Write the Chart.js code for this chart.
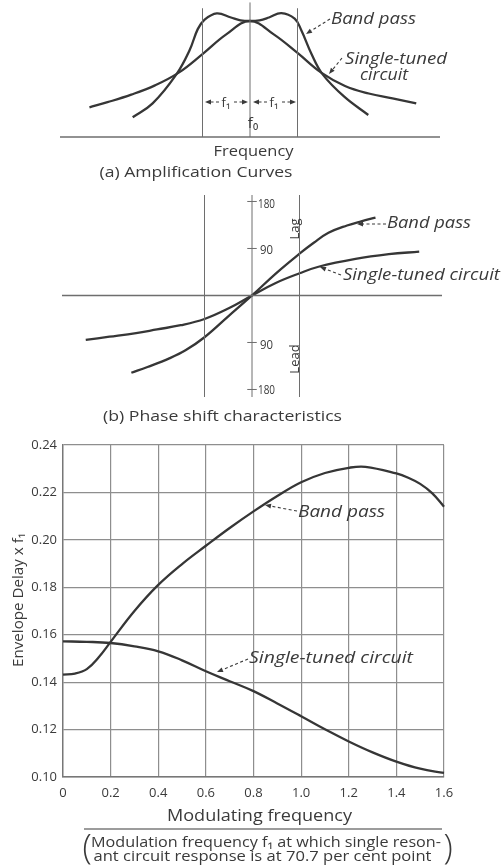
<!DOCTYPE html>
<html><head><meta charset="utf-8">
<script src="https://cdn.jsdelivr.net/npm/chart.js@4.4.1/dist/chart.umd.min.js"></script>
<style>
html,body{margin:0;padding:0;background:#fff;}
#wrap{position:relative;width:501px;height:867px;overflow:hidden;background:#fff;}
canvas{position:absolute;left:0;top:0;}
</style></head><body>
<div id="wrap">
<canvas id="c1" width="501" height="867"></canvas>
<canvas id="c2" width="501" height="867"></canvas>
<canvas id="c3" width="501" height="867"></canvas>
</div>
<script>
// ---------- data ----------
// (a) amplification curves: x in units of f1 from f0, relative amplitude
const ampBandX   = [-2.47,-2.05,-1.55,-1.27,-1.1,-0.96,-0.7,-0.4,-0.2,0,0.2,0.4,0.66,0.94,1.08,1.29,1.53,1.99,2.49];
const ampBandY   = [0.17,0.29,0.54,0.75,0.93,1.01,1.066,1.03,1.006,1.0,1.006,1.03,1.068,1.02,0.92,0.72,0.54,0.345,0.19];
const ampSingleX = [-3.38,-3.0,-2.5,-2.0,-1.5,-1.0,-0.5,0,0.5,1.0,1.5,2.0,2.5,3.0,3.5];
const ampSingleY = [0.256,0.300,0.365,0.445,0.555,0.715,0.885,1.0,0.885,0.725,0.555,0.44,0.375,0.333,0.29];
// (b) phase shift, degrees
const phBandX    = [-2.54,-2.2,-1.73,-1.4,-1.0,-0.5,0,0.5,1.0,1.3,1.61,2.0,2.3,2.6];
const phBandY    = [-148,-137,-120,-105,-80,-40,0,42,80,101,120,134,142,149];
const phSingleX  = [-3.5,-3.0,-2.44,-2.0,-1.5,-1.0,-0.5,0,0.5,1.0,1.4,2.18,2.88,3.52];
const phSingleY  = [-85,-79,-72,-65,-57,-45,-25,0,24,42.5,55,70,79,84];
const phaseTicks = [180,90,-90,-180];
// (c) envelope delay
const modFreq    = [0,0.05,0.1,0.15,0.2,0.3,0.4,0.5,0.6,0.7,0.8,0.9,1.0,1.1,1.2,1.27,1.4,1.45,1.5,1.55,1.6];
const delayBand  = [0.1432,0.1436,0.1455,0.1505,0.1570,0.1700,0.1810,0.1898,0.1975,0.2050,0.2120,0.2185,0.2243,0.2282,0.2304,0.2308,0.2280,0.2262,0.2236,0.2197,0.2140];
const modFreq2   = [0,0.1,0.2,0.3,0.4,0.5,0.6,0.7,0.8,0.9,1.0,1.1,1.2,1.3,1.4,1.5,1.6];
const delaySingle= [0.1572,0.1570,0.1565,0.1551,0.1530,0.1492,0.1446,0.1404,0.1362,0.1310,0.1256,0.1201,0.1150,0.1104,0.1065,0.1035,0.1017];
const xTicks = [0,0.2,0.4,0.6,0.8,1.0,1.2,1.4,1.6];
const yTicks = [0.10,0.12,0.14,0.16,0.18,0.20,0.22,0.24];

// ---------- styles ----------
const INK='#363636', LINE='#6e6e6e', GRID='#8e8e8e', TEXT='#3a3a3a';
const FONT='"Open Sans", sans-serif';
Chart.defaults.font.family = FONT;
Chart.defaults.color = TEXT;

const pts = (xs, ys) => xs.map((x,i)=>({x, y: ys[i]}));
const curve = (xs, ys) => ({data: pts(xs,ys), borderColor: INK, borderWidth: 2.3, pointRadius: 0, tension: 0.4, clip: false, fill: false});
const rule  = (data, w, c) => ({data, borderColor: c||LINE, borderWidth: w||1, pointRadius: 0, tension: 0, clip: false, fill: false});

const annot = {
  id: 'annot',
  afterDraw(chart, args, o) {
    const ctx = chart.ctx;
    ctx.save();
    (o.segs||[]).forEach(s => {
      ctx.beginPath(); ctx.strokeStyle = s.c||LINE; ctx.lineWidth = s.w||1; ctx.setLineDash(s.dash||[]);
      ctx.moveTo(s.x1,s.y1); ctx.lineTo(s.x2,s.y2); ctx.stroke();
    });
    (o.arrows||[]).forEach(a => {
      const ang = Math.atan2(a.y1-a.y2, a.x1-a.x2);
      const L=6, W=2.4;
      ctx.beginPath(); ctx.setLineDash([3,2.5]); ctx.strokeStyle=TEXT; ctx.lineWidth=1.1;
      ctx.moveTo(a.x2,a.y2); ctx.lineTo(a.x1 - L*Math.cos(ang), a.y1 - L*Math.sin(ang)); ctx.stroke();
      ctx.setLineDash([]);
      ctx.beginPath(); ctx.fillStyle=TEXT;
      ctx.moveTo(a.x1,a.y1);
      ctx.lineTo(a.x1 - L*Math.cos(ang) + W*Math.sin(ang), a.y1 - L*Math.sin(ang) - W*Math.cos(ang));
      ctx.lineTo(a.x1 - L*Math.cos(ang) - W*Math.sin(ang), a.y1 - L*Math.sin(ang) + W*Math.cos(ang));
      ctx.closePath(); ctx.fill();
    });
    ctx.setLineDash([]);
    (o.texts||[]).forEach(t => {
      ctx.font = (t.it?'italic ':'') + (t.wt||400) + ' ' + t.s + 'px ' + FONT;
      ctx.fillStyle = t.c||TEXT; ctx.textAlign='center'; ctx.textBaseline='alphabetic';
      const m = ctx.measureText(t.t).width;
      ctx.save(); ctx.translate(t.x,t.y); if (t.r) ctx.rotate(t.r); if (t.w) ctx.scale(t.w/m,1);
      ctx.fillText(t.t,0,0); ctx.restore();
    });
    ctx.restore();
  }
};

const base = {responsive:false, animation:false, devicePixelRatio:1, events:[],
  plugins:{legend:{display:false}, tooltip:{enabled:false}}};

// ---------- (a) amplification ----------
new Chart(document.getElementById('c1'), {
  type:'line',
  data:{datasets:[
    rule([{x:-4,y:0},{x:4,y:0}], 1.3),
    rule([{x:0,y:0},{x:0,y:1.16}], 1),
    rule([{x:-1,y:0},{x:-1,y:1.11}], 1),
    rule([{x:1,y:0},{x:1,y:1.11}], 1),
    curve(ampSingleX, ampSingleY),
    curve(ampBandX, ampBandY)
  ]},
  options:{...base,
    layout:{padding:{left:60,right:61,top:2,bottom:730}},
    scales:{x:{type:'linear',min:-4,max:4,display:false}, y:{type:'linear',min:0,max:1.1638,display:false}},
    plugins:{...base.plugins, annot:{
      arrows:[{x1:306,y1:34,x2:330,y2:19},{x1:329,y1:74,x2:342,y2:58},
              {x1:205,y1:102,x2:219,y2:102},{x1:248,y1:102,x2:234,y2:102},
              {x1:253,y1:102,x2:267,y2:102},{x1:296,y1:102,x2:282,y2:102}],
      texts:[
        {t:'Band pass',x:373.5,y:24,w:85,s:16,it:true},
        {t:'Single-tuned',x:396,y:64,w:102,s:16,it:true},
        {t:'circuit',x:384,y:80,w:48,s:16,it:true},
        {t:'f\u2081',x:226,y:107,s:13},
        {t:'f\u2081',x:274,y:107,s:13},
        {t:'f\u2080',x:253,y:128,s:15},
        {t:'Frequency',x:253.5,y:156,w:80,s:15},
        {t:'(a) Amplification Curves',x:196,y:177,w:193,s:14}
      ]}}
  },
  plugins:[annot]
});

// ---------- (b) phase ----------
new Chart(document.getElementById('c2'), {
  type:'line',
  data:{datasets:[
    rule([{x:-4,y:0},{x:4,y:0}], 1.3),
    rule([{x:0,y:-194.4},{x:0,y:192.4}], 1),
    rule([{x:-1,y:-194.4},{x:-1,y:192.4}], 1),
    rule([{x:1,y:-194.4},{x:1,y:192.4}], 1),
    ...phaseTicks.map(v => rule([{x:-0.1,y:v},{x:0.1,y:v}], 1)),
    curve(phSingleX, phSingleY),
    curve(phBandX, phBandY)
  ]},
  options:{...base,
    layout:{padding:{left:62,right:59,top:195,bottom:470}},
    scales:{x:{type:'linear',min:-4,max:4,display:false}, y:{type:'linear',min:-194.4,max:192.4,display:false}},
    plugins:{...base.plugins, annot:{
      arrows:[{x1:357,y1:224,x2:386,y2:224},{x1:320,y1:267,x2:341,y2:275}],
      texts:[
        {t:'Band pass',x:429,y:228,w:84,s:16,it:true},
        {t:'Single-tuned circuit',x:421.5,y:280,w:157,s:16,it:true},
        {t:'180',x:266.5,y:208,w:17,s:13},
        {t:'90',x:266.5,y:254,w:13,s:13},
        {t:'90',x:266.5,y:349,w:13,s:13},
        {t:'180',x:266.5,y:394,w:17,s:13},
        {t:'Lag',x:299,y:229,s:13,r:-Math.PI/2},
        {t:'Lead',x:299,y:359,s:13,r:-Math.PI/2},
        {t:'(b) Phase shift characteristics',x:222.5,y:421,w:239,s:15}
      ]}}
  },
  plugins:[annot]
});

// ---------- (c) envelope delay ----------
new Chart(document.getElementById('c3'), {
  type:'line',
  data:{datasets:[curve(modFreq, delayBand), curve(modFreq2, delaySingle)]},
  options:{...base,
    layout:{padding:{left:0,right:57,top:445,bottom:60}},
    scales:{
      x:{type:'linear',min:0,max:1.6,
         afterBuildTicks:s=>{s.ticks = xTicks.map(v=>({value:v}));},
         afterFit:s=>{s.height=30;},
         grid:{color:GRID,lineWidth:1.2,drawTicks:false},
         border:{color:'#777',width:1.4},
         ticks:{padding:8,font:{size:13},color:TEXT,maxRotation:0,callback:v=>v===0?'0':v.toFixed(1)}},
      y:{type:'linear',min:0.10,max:0.24,
         afterBuildTicks:s=>{s.ticks = yTicks.map(v=>({value:v}));},
         afterFit:s=>{s.width=63;},
         grid:{color:GRID,lineWidth:1.2,drawTicks:false},
         border:{color:'#777',width:1.4},
         ticks:{padding:6,font:{size:13},color:TEXT,callback:v=>v.toFixed(2)}}
    },
    plugins:{...base.plugins, annot:{
      segs:[{x1:84,y1:829,x2:442,y2:829,w:1.2,c:TEXT}],
      arrows:[{x1:265,y1:505,x2:297,y2:511},{x1:217,y1:672,x2:248,y2:659}],
      texts:[
        {t:'Band pass',x:341.5,y:517,w:87,s:16,it:true},
        {t:'Single-tuned circuit',x:331,y:663,w:164,s:16,it:true},
        {t:'Envelope Delay x f\u2081',x:23,y:600,w:134,s:15,r:-Math.PI/2},
        {t:'Modulating frequency',x:259.5,y:821,w:185,s:17},
        {t:'Modulation frequency f\u2081 at which single reson-',x:266,y:847,w:350,s:15},
        {t:'ant circuit response is at 70.7 per cent point',x:262.5,y:861,w:338,s:15},
        {t:'(',x:87,y:859,s:34,wt:300},
        {t:')',x:448,y:859,s:34,wt:300}
      ]}}
  },
  plugins:[annot]
});
</script>
</body></html>
